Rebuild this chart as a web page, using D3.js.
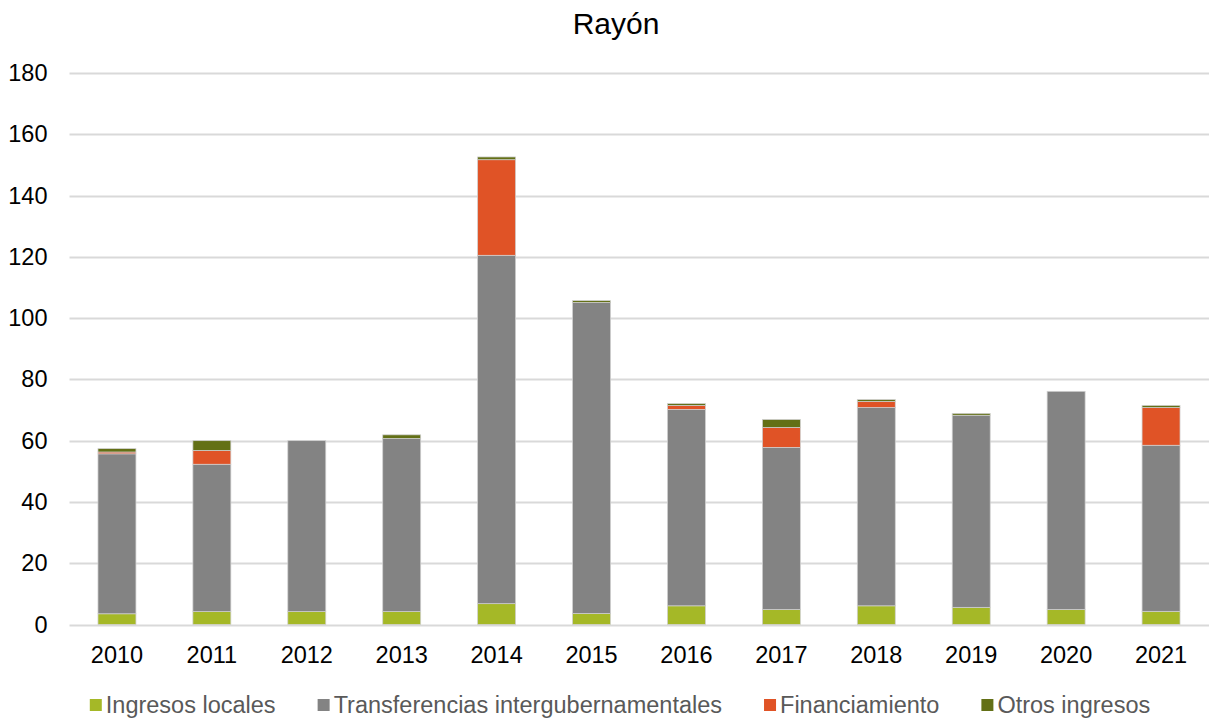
<!DOCTYPE html>
<html>
<head>
<meta charset="utf-8">
<script src="https://cdn.jsdelivr.net/npm/d3@7"></script>
<style>
  body { margin: 0; background: #fff; }
  text { font-family: "Liberation Sans", Arial, sans-serif; }
</style>
</head>
<body>
<div id="chart"></div>
<script>
// data
var years = ["2010", "2011", "2012", "2013", "2014", "2015", "2016", "2017", "2018", "2019", "2020", "2021"];
var ingresosLocales = [3.5, 4.2, 4.2, 4.2, 6.8, 3.6, 6.1, 4.9, 6.1, 5.6, 4.9, 4.3];
var transferencias = [52.2, 48.1, 55.8, 56.5, 113.7, 101.5, 64.1, 52.9, 64.7, 62.7, 71.2, 54.2];
var financiamiento = [0.6, 4.5, 0, 0, 31.2, 0, 1.3, 6.5, 2.0, 0, 0, 12.3];
var otrosIngresos = [1.1, 3.2, 0, 1.2, 0.9, 0.6, 0.6, 2.6, 0.6, 0.6, 0, 0.7];
var seriesNames = ["Ingresos locales", "Transferencias intergubernamentales", "Financiamiento", "Otros ingresos"];
var seriesColors = ["#a5b827", "#838383", "#e05326", "#637016"];
var yTicks = [0, 20, 40, 60, 80, 100, 120, 140, 160, 180];

var width = 1209, height = 721;
var margin = {top: 73, right: 0.5, bottom: 96.5, left: 69.5};

var svg = d3.select("#chart").append("svg")
    .attr("width", width)
    .attr("height", height);

//Builds the rows for the stack.
var rows = years.map(function(y, i) {
    return {
        year: y,
        "Ingresos locales": ingresosLocales[i],
        "Transferencias intergubernamentales": transferencias[i],
        "Financiamiento": financiamiento[i],
        "Otros ingresos": otrosIngresos[i]
    };
});
var stacked = d3.stack().keys(seriesNames)(rows);

var x = d3.scaleBand().domain(years)
    .range([margin.left, width - margin.right])
    .paddingInner(0.6).paddingOuter(0.3);
var y = d3.scaleLinear().domain([0, 180])
    .range([height - margin.bottom, margin.top]);

// title
svg.append("text")
    .attr("x", 616).attr("y", 34)
    .attr("text-anchor", "middle")
    .style("font-size", "30px")
    .attr("fill", "#000")
    .text("Rayón");

// grid lines
svg.append("g").selectAll("line")
    .data(yTicks).enter().append("line")
    .attr("x1", margin.left).attr("x2", width)
    .attr("y1", function(d) { return Math.round(y(d)) + 0.5; })
    .attr("y2", function(d) { return Math.round(y(d)) + 0.5; })
    .attr("stroke", "#d9d9d9").attr("stroke-width", 2);

// y axis labels
var yAxis = svg.append("g")
    .attr("transform", "translate(" + (margin.left - 22) + ",0)")
    .call(d3.axisLeft(y).tickValues(yTicks).tickSize(0).tickPadding(0));
yAxis.select(".domain").remove();
yAxis.selectAll("text")
    .style("font-size", "23.5px")
    .style("font-family", "'Liberation Sans', Arial, sans-serif")
    .attr("fill", "#000");

// x axis labels
var xAxis = svg.append("g")
    .attr("transform", "translate(0," + (height - margin.bottom) + ")")
    .call(d3.axisBottom(x).tickSize(0).tickPadding(22));
xAxis.select(".domain").remove();
xAxis.selectAll("text")
    .style("font-size", "23.5px")
    .style("font-family", "'Liberation Sans', Arial, sans-serif")
    .attr("fill", "#000");

// stacked bars
svg.append("g").selectAll("g")
    .data(stacked).enter().append("g")
    .attr("fill", function(d, i) { return seriesColors[i]; })
    .selectAll("rect")
    .data(function(d) { return d.filter(function(e) { return e[1] - e[0] > 0; }); })
    .enter().append("rect")
    .attr("x", function(d) { return x(d.data.year); })
    .attr("width", x.bandwidth())
    .attr("y", function(d) { return y(d[1]); })
    .attr("height", function(d) { return y(d[0]) - y(d[1]); })
    .attr("stroke", "#d0d0d0")
    .attr("stroke-width", 0.75);

// legend
var legend = svg.append("g");
var items = legend.selectAll("g")
    .data(seriesNames).enter().append("g");
items.append("rect")
    .attr("width", 12).attr("height", 12)
    .attr("y", -6)
    .attr("fill", function(d, i) { return seriesColors[i]; });
items.append("text")
    .attr("x", 16).attr("dy", "0.35em")
    .style("font-size", "23.5px")
    .attr("fill", "#595959")
    .text(function(d) { return d; });

var offset = 0, gap = 42, positions = [];
items.each(function() {
    positions.push(offset);
    offset += 16 + d3.select(this).select("text").node().getComputedTextLength() + gap;
});
var total = offset - gap;
var start = 620 - total / 2;
items.attr("transform", function(d, i) { return "translate(" + (start + positions[i]) + ",705)"; });
</script>
</body>
</html>
